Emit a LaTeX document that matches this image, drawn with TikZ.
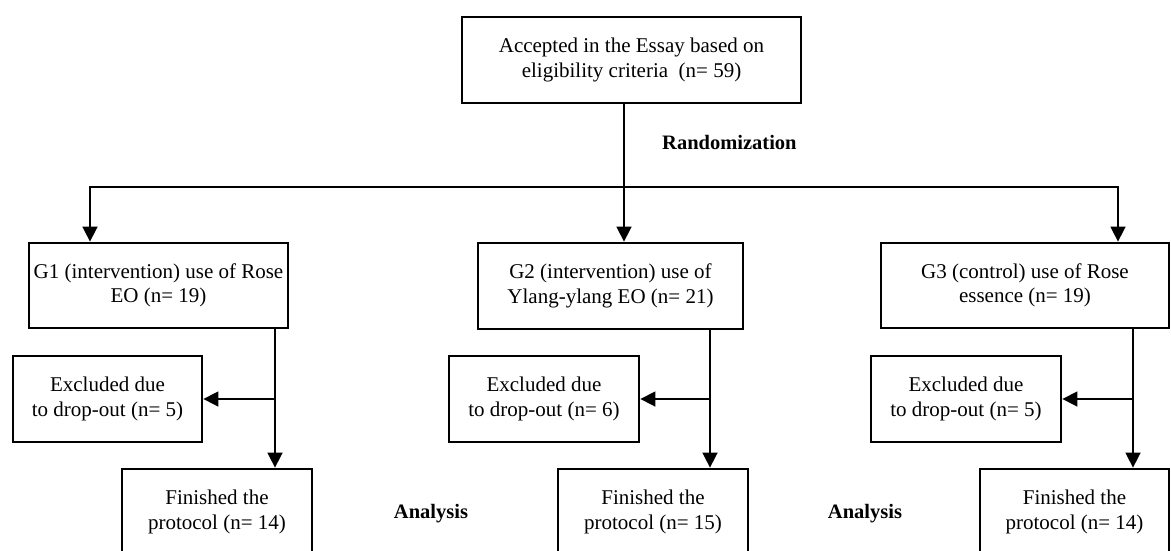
\documentclass[tikz,border=0pt]{standalone}
\usepackage{fontspec}
\setmainfont{Liberation Serif}
\usetikzlibrary{arrows.meta}
\begin{document}
\begin{tikzpicture}[x=1pt,y=-1pt,
  box/.style={draw, line width=2.8pt, inner sep=0pt, align=center,
    font=\fontsize{21}{24.5}\selectfont},
  lbl/.style={inner sep=0pt, font=\fontsize{20.5}{24}\selectfont\bfseries},
  conn/.style={line width=1.6pt},
  arr/.style={conn, -{Triangle[length=15pt,width=15pt]}}]
\useasboundingbox (0,0) rectangle (1171,550);
\clip (0,0) rectangle (1171,550);
\fill[white] (0,0) rectangle (1171,550);
% boxes
\node[box, minimum width=339pt, minimum height=86pt] (top) at (631.5,60)
  {Accepted in the Essay based on\\eligibility criteria\ \ (n= 59)};
\node[box, minimum width=259pt, minimum height=85pt] (g1) at (158.5,285.5)
  {G1 (intervention) use of Rose\\EO (n= 19)};
\node[box, minimum width=265pt, minimum height=86pt] (g2) at (610.5,286)
  {G2 (intervention) use of\\Ylang-ylang EO (n= 21)};
\node[box, minimum width=288pt, minimum height=85pt] (g3) at (1025,285.5)
  {G3 (control) use of Rose\\essence (n= 19)};
\node[box, minimum width=189pt, minimum height=86pt] (e1) at (107.5,399)
  {Excluded due\\to drop-out (n= 5)};
\node[box, minimum width=190pt, minimum height=86pt] (e2) at (544,399)
  {Excluded due\\to drop-out (n= 6)};
\node[box, minimum width=190pt, minimum height=86pt] (e3) at (966,399)
  {Excluded due\\to drop-out (n= 5)};
\node[box, minimum width=190pt, minimum height=86pt] (f1) at (217,512)
  {Finished the\\protocol (n= 14)};
\node[box, minimum width=190pt, minimum height=86pt] (f2) at (653,512)
  {Finished the\\protocol (n= 15)};
\node[box, minimum width=189pt, minimum height=86pt] (f3) at (1074.5,512)
  {Finished the\\protocol (n= 14)};
% labels
\node[lbl, anchor=base west] (rand) at (662,149) {Randomization};
\node[lbl, anchor=base] (an1) at (431,518) {Analysis};
\node[lbl, anchor=base] (an2) at (865,518) {Analysis};
% connector coordinates
\coordinate (sp) at (624,187);
\coordinate (l1) at (90,187);
\coordinate (r1) at (1118,187);
\coordinate (v1) at (275,399);
\coordinate (v2) at (710,399);
\coordinate (v3) at (1133,399);
% randomization branches
\draw[conn] (top.south -| sp) -- (sp);
\draw[arr] (sp) -- (g2.north -| sp);
\draw[arr] (sp) -- (l1) -- (g1.north -| l1);
\draw[arr] (sp) -- (r1) -- (g3.north -| r1);
% group flows
\draw[arr] (g1.south -| v1) -- (f1.north -| v1);
\draw[arr] (v1) -- (e1.east |- v1);
\draw[arr] (g2.south -| v2) -- (f2.north -| v2);
\draw[arr] (v2) -- (e2.east |- v2);
\draw[arr] (g3.south -| v3) -- (f3.north -| v3);
\draw[arr] (v3) -- (e3.east |- v3);
\end{tikzpicture}
\end{document}
